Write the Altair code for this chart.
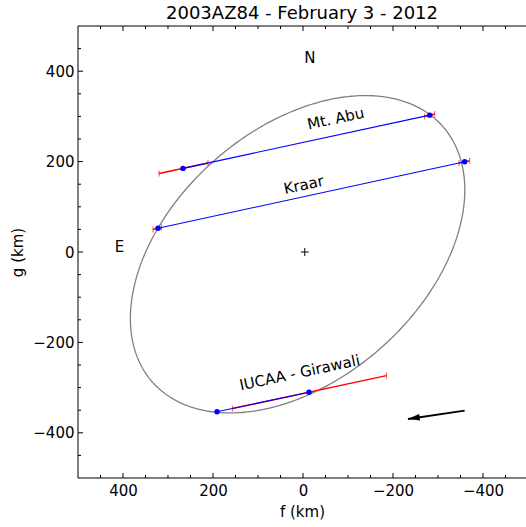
import altair as alt
import numpy as np
import pandas as pd

FONT = "DejaVu Sans"
title_text = "2003AZ84 - February 3 - 2012"

# ---- axis ticks ----
major_ticks = [-400, -200, 0, 200, 400]
minor_ticks = [-450, -350, -300, -250, -150, -100, -50, 50, 100, 150, 250, 300, 350, 450]

# ---- fitted ellipse (km) ----
ell_fc, ell_gc = 12.0, -5.0
ell_a, ell_b = 429.0, 278.0
ell_phi_deg = 41.0

# ---- chords (endpoints, km) ----
chord_names = ["Mt. Abu", "Kraar", "IUCAA - Girawali"]
chord_f1 = [266.7, 322.2, 191.1]
chord_g1 = [185.0, 52.4, -353.6]
chord_f2 = [-281.6, -359.3, -13.3]
chord_g2 = [302.8, 199.6, -310.1]

# ---- error bars along chords (km) ----
err_f1 = [320.0, -270.4, 333.3, -346.7, 156.9]
err_g1 = [173.6, 300.0, 50.0, 197.0, -346.3]
err_f2 = [211.1, -292.7, 314.7, -370.4, -185.3]
err_g2 = [197.0, 305.1, 54.0, 202.0, -273.5]

# ---- labels ----
chord_label_f = [-72.7, -1.6, 7.3]
chord_label_g = [295.0, 148.5, -267.0]
dir_labels = ["N", "E"]
dir_label_f = [-15.0, 408.0]
dir_label_g = [430.0, 12.0]
center_f = [-4.0]
center_g = [0.0]

# ---- motion arrow ----
arrow_tail_f, arrow_tail_g = -359.3, -351.1
arrow_tip_f, arrow_tip_g = -233.3, -369.5
arrow_head_f, arrow_head_g = -246.0, -367.4

# ---------------------------------------------------------------
W, H = 448, 452
xs = alt.Scale(domain=[500, -495.6], nice=False, zero=False)
ys = alt.Scale(domain=[-500, 500], nice=False, zero=False)

x_axis = alt.Axis(values=major_ticks, ticks=False, domain=False, grid=False,
                  labelFont=FONT, labelFontSize=15, labelColor="black", labelPadding=5,
                  title="f (km)", titleFont=FONT, titleFontSize=15, titleFontWeight="normal",
                  titleColor="black", titlePadding=6)
y_axis = alt.Axis(values=major_ticks, ticks=False, domain=False, grid=False,
                  labelFont=FONT, labelFontSize=15, labelColor="black", labelPadding=4,
                  title="g (km)", titleFont=FONT, titleFontSize=15, titleFontWeight="normal",
                  titleColor="black", titlePadding=7)


def X(field):
    return alt.X(f"{field}:Q", scale=xs, axis=x_axis, title="f (km)")


def Y(field):
    return alt.Y(f"{field}:Q", scale=ys, axis=y_axis, title="g (km)")


t = np.linspace(0, 2 * np.pi, 361)
phi = np.radians(ell_phi_deg)
ell_df = pd.DataFrame({
    "f": ell_fc - (ell_a * np.cos(phi) * np.cos(t) - ell_b * np.sin(phi) * np.sin(t)),
    "g": ell_gc + (ell_a * np.sin(phi) * np.cos(t) + ell_b * np.cos(phi) * np.sin(t)),
    "i": np.arange(len(t)),
})

chord_df = pd.DataFrame({"name": chord_names, "f1": chord_f1, "g1": chord_g1,
                         "f2": chord_f2, "g2": chord_g2,
                         "lf": chord_label_f, "lg": chord_label_g})
dots_df = pd.DataFrame({"f": chord_f1 + chord_f2, "g": chord_g1 + chord_g2})
err_df = pd.DataFrame({"f1": err_f1, "g1": err_g1, "f2": err_f2, "g2": err_g2})
caps_df = pd.DataFrame({"f": err_f1 + err_f2, "g": err_g1 + err_g2})
dir_df = pd.DataFrame({"t": dir_labels, "f": dir_label_f, "g": dir_label_g})
center_df = pd.DataFrame({"f": center_f, "g": center_g})
arrow_df = pd.DataFrame({"f1": [arrow_tail_f], "g1": [arrow_tail_g],
                         "f2": [arrow_tip_f], "g2": [arrow_tip_g]})
head_df = pd.DataFrame({"f": [arrow_head_f], "g": [arrow_head_g]})
maj_df = pd.DataFrame({"v": major_ticks})
min_df = pd.DataFrame({"v": minor_ticks})

ellipse = alt.Chart(ell_df).mark_line(color="#808080", strokeWidth=1.3).encode(
    x=X("f"), y=Y("g"), order="i:Q")

errs = alt.Chart(err_df).mark_rule(color="#ff0000", strokeWidth=1.5).encode(
    x=X("f1"), y=Y("g1"), x2="f2:Q", y2="g2:Q")
caps = alt.Chart(caps_df).mark_tick(color="#ff0000", orient="vertical", size=6,
                                    thickness=1).encode(x=X("f"), y=Y("g"))
chords = alt.Chart(chord_df).mark_rule(color="#0000ff", strokeWidth=1.1).encode(
    x=X("f1"), y=Y("g1"), x2="f2:Q", y2="g2:Q")
dots = alt.Chart(dots_df).mark_circle(color="#0000ff", size=30, opacity=1).encode(
    x=X("f"), y=Y("g"))
chord_labels = alt.Chart(chord_df).mark_text(font=FONT, fontSize=15, angle=348,
                                             align="center", baseline="middle",
                                             color="black").encode(
    x=X("lf"), y=Y("lg"), text="name:N")
dirs = alt.Chart(dir_df).mark_text(font=FONT, fontSize=15, align="center",
                                   baseline="middle", color="black").encode(
    x=X("f"), y=Y("g"), text="t:N")
center = alt.Chart(center_df).mark_point(shape="M-1,0L1,0M0,-1L0,1", size=64,
                                         filled=False, color="black",
                                         strokeWidth=1, opacity=1).encode(
    x=X("f"), y=Y("g"))
arrow_line = alt.Chart(arrow_df).mark_rule(color="black", strokeWidth=1.8).encode(
    x=X("f1"), y=Y("g1"), x2="f2:Q", y2="g2:Q")
arrow_head = alt.Chart(head_df).mark_point(shape="M-1,0L1,-0.55L1,0.55Z", size=144,
                                           filled=True, color="black", opacity=1,
                                           angle=351.7).encode(x=X("f"), y=Y("g"))

# inward ticks (bottom, top, left)
tick_layers = []
for df, L in ((maj_df, 5), (min_df, 3)):
    tick_layers.append(alt.Chart(df).mark_rule(color="black", strokeWidth=1).encode(
        x=X("v"), y=alt.value(H), y2=alt.value(H - L)))
    tick_layers.append(alt.Chart(df).mark_rule(color="black", strokeWidth=1).encode(
        x=X("v"), y=alt.value(0), y2=alt.value(L)))
    tick_layers.append(alt.Chart(df).mark_rule(color="black", strokeWidth=1).encode(
        y=Y("v"), x=alt.value(0), x2=alt.value(L)))

spine_df = pd.DataFrame({"k": [0]})
spines = [
    alt.Chart(spine_df).mark_rule(color="black", strokeWidth=1).encode(
        x=alt.value(0), y=alt.value(0), y2=alt.value(H)),
    alt.Chart(spine_df).mark_rule(color="black", strokeWidth=1).encode(
        x=alt.value(0), x2=alt.value(W), y=alt.value(0)),
    alt.Chart(spine_df).mark_rule(color="black", strokeWidth=1).encode(
        x=alt.value(0), x2=alt.value(W), y=alt.value(H)),
]

chart = alt.layer(
    ellipse, errs, caps, chords, dots, chord_labels, dirs, center,
    arrow_line, arrow_head, *tick_layers, *spines
).properties(
    width=W, height=H,
    autosize=alt.AutoSizeParams(type="none"),
    padding={"left": 78, "top": 26, "right": 0, "bottom": 49},
    title=alt.TitleParams(text=title_text, font=FONT, fontSize=18, fontWeight="normal",
                          color="black", anchor="middle", offset=3),
).configure_view(stroke=None)

chart.save("out.html", embed_options={"renderer": "svg", "actions": False})
